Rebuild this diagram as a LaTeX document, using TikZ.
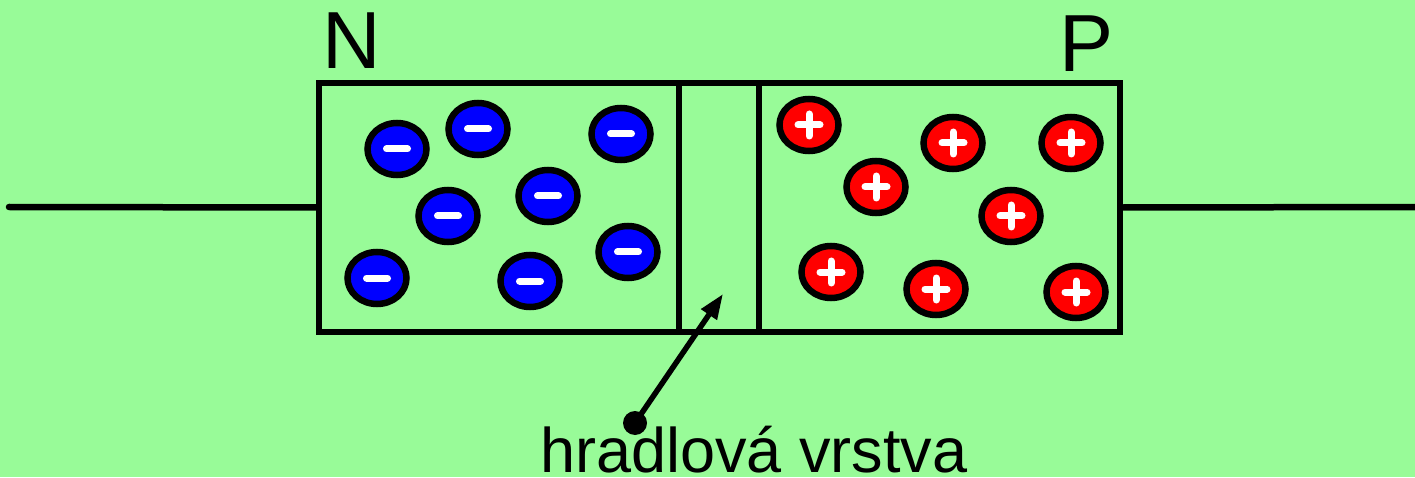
\documentclass[tikz,border=0pt]{standalone}
\usepackage{fontspec}
\setmainfont{Liberation Sans}
\usetikzlibrary{shapes.geometric,arrows.meta}
\definecolor{bggreen}{HTML}{98FB98}
\tikzset{
	region/.style={draw, line width=6.5pt, inner sep=0pt, minimum height=249pt},
	wire/.style={line width=6.5pt, line cap=round},
	carrier/.style={ellipse, draw, line width=6.5pt, inner sep=0pt, minimum width=59pt, minimum height=52pt},
	electron/.style={carrier, fill=blue, path picture={
		\draw[white, line width=7pt, line cap=round] ([xshift=-10.5pt]path picture bounding box.center) -- ([xshift=10.5pt]path picture bounding box.center);}},
	hole/.style={carrier, fill=red, path picture={
		\draw[white, line width=7pt, line cap=round] ([xshift=-11pt]path picture bounding box.center) -- ([xshift=11pt]path picture bounding box.center);
		\draw[white, line width=7pt, line cap=round] ([yshift=-11pt]path picture bounding box.center) -- ([yshift=11pt]path picture bounding box.center);}},
	bigletter/.style={inner sep=0pt, anchor=base, font=\fontsize{81pt}{81pt}\selectfont}
}

\begin{document}
\begin{tikzpicture}[x=1pt, y=1pt]
	%%%%% START %%%%%
	
	\fill[bggreen] (0, 0) rectangle (1415, 477);
	\useasboundingbox (0, 0) rectangle (1415, 477);
	
	\node[region, minimum width=360pt] (nreg) at (499, 269.5) {};
	\node[region, minimum width=80pt] (junction) at (719, 269.5) {};
	\node[region, minimum width=361pt] (preg) at (939.5, 269.5) {};
	
	\coordinate (lend) at (9, 270);
	\coordinate (rend) at (1425, 270);
	\draw[wire] (lend) -- (nreg.west);
	\draw[wire] (preg.east) -- (rend);
	
	\node[bigletter] (nlabel) at (352, 408) {N};
	\node[bigletter] (plabel) at (1086, 405) {P};
	
	\node[electron] (e1) at (397, 328) {};
	\node[electron] (e2) at (478, 348) {};
	\node[electron] (e3) at (621, 343) {};
	\node[electron] (e4) at (448, 261) {};
	\node[electron] (e5) at (548, 281) {};
	\node[electron] (e6) at (628, 225) {};
	\node[electron] (e7) at (377, 199) {};
	\node[electron] (e8) at (530, 196) {};
	
	\node[hole] (h1) at (809, 352) {};
	\node[hole] (h2) at (953, 334) {};
	\node[hole] (h3) at (1071, 334) {};
	\node[hole] (h4) at (876, 290) {};
	\node[hole] (h5) at (1011, 261) {};
	\node[hole] (h6) at (831, 205) {};
	\node[hole] (h7) at (936, 188) {};
	\node[hole] (h8) at (1076, 185) {};
	
	\node[circle, fill=black, inner sep=0pt, minimum size=24pt] (dot) at (635, 54) {};
	\coordinate (tip) at (723, 183);
	\draw[line width=5.5pt, -{Triangle[length=25pt, width=18pt]}] (dot.center) -- (tip);
	\node[inner sep=0pt, anchor=base, font=\fontsize{63pt}{63pt}\selectfont] (layer) at (754, 5) {hradlová vrstva};
	
	%%%%% END %%%%%
\end{tikzpicture}
\end{document}
